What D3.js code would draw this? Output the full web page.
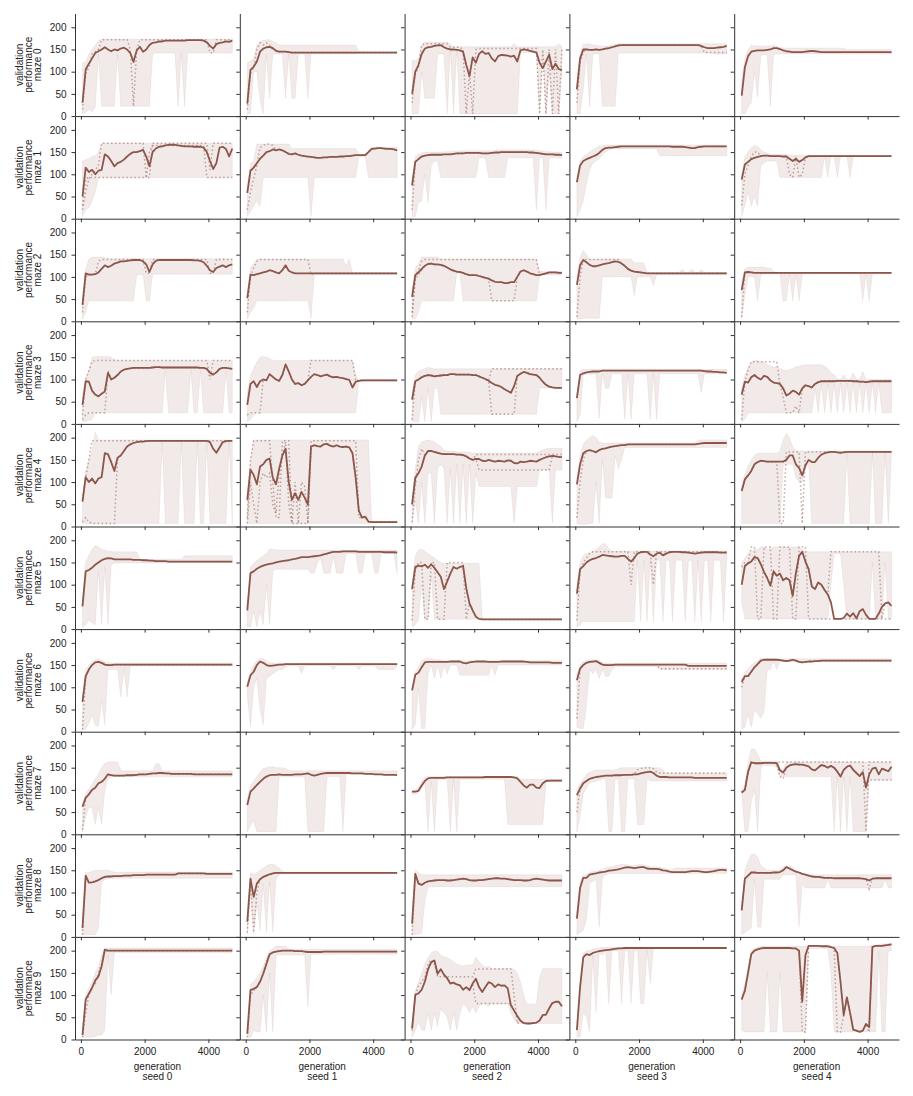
<!DOCTYPE html>
<html>
<head>
<meta charset="utf-8">
<script src="https://cdn.jsdelivr.net/npm/d3@7"></script>
<style>
  body { margin: 0; background: #fff; }
  text { font-family: "Liberation Sans", Arial, Helvetica, sans-serif; }
</style>
</head>
<body>
<svg id="chart"></svg>
<script>
/*** DADOS ***/
const mazes = ["maze 0", "maze 1", "maze 2", "maze 3", "maze 4", "maze 5", "maze 6", "maze 7", "maze 8", "maze 9"];
const seeds = ["seed 0", "seed 1", "seed 2", "seed 3", "seed 4"];
const gens = [50, 150, 250, 350, 450, 550, 650, 750, 850, 950, 1050, 1150, 1250, 1350, 1450, 1550,
  1650, 1750, 1850, 1950, 2050, 2150, 2250, 2350, 2450, 2550, 2650, 2750, 2850, 2950, 3050, 3150,
  3250, 3350, 3450, 3550, 3650, 3750, 3850, 3950, 4050, 4150, 4250, 4350, 4450, 4550, 4650, 4750];
const xTicks = [0, 2000, 4000];
const yTicks = [0, 50, 100, 150, 200];

// series per maze (row) and seed (column); "v*n" = v repeated n times, "-" = same as the mean
const meanLine = [
  ["30 105 118 130 142 146 150 155 150 146 150 148 152 154 150 142 122 148 156 145 150 160 165 166 168 168 170*7 171*5 170 166 158 152 162 165 166 168 167 170",
   "28 104 111 123 145 152 155 156 153 147 145 145 145 144 143*34",
   "50 100 115 140 152 155 156 158 159 160 155 152 150 150 149 148 145 115 90 132 120 140 146 140 142 130 123 135 138 137 136 134 136 123 148 150 149 147 145 143 120 108 123 138 106 118 106 104",
   "60 130 150 150 149 149 150 149 150 152 153 155 157 159 160*25 158 155 153 153 153 154 155 156 158",
   "46 110 135 145 147 148 148 148 149 150 153 153 151 148 146 145 144 144 144 144 145 146 147 146 145 144*23"],
  ["50 115 105 110 100 108 110 145 140 130 118 125 128 133 140 146 150 150 152 155 140 118 150 158 162 163 165 166 167 166 165 164 163 163 163 162 162 162 160 150 130 112 125 160 162 157 140 158",
   "58 108 115 125 135 142 150 152 156 154 156 154 150 146 145 147 144 142 141 140 139 138 137 137 138 138 139 139 139 140 140 141 141 142 143 143 143 143 150 157 158 159 159 158 157 157 156 154",
   "75 128 134 140 142 143 144 144 144 144 145 145 145 146 147 147 147 148 148 148 148 148 147 147 147 148 149 149 150*9 149 149 148 147 146 145 145 145 144 144 143",
   "82 120 130 134 137 140 143 148 155 159 160 160 161 162 163*16 162*4 161 160 159 159 161 162 163*8",
   "88 122 128 134 137 139 141 142 142 141 141 141 141 140 140 135 130 135 128 132 138 141 141*26"],
  ["37 108 105 105 106 110 118 126 122 125 130 132 135 135 136 137 138 138 138 135 128 111 128 136 138*11 137 137 136 133 125 115 111 120 123 126 122 126 128",
   "52 105 104 106 108 110 112 115 113 110 108 115 126 114 110 108*33",
   "55 104 110 118 125 129 130 128 128 127 125 121 117 114 112 111 109 106 104 104 104 102 100 98 96 92 89 88 88 86 86 88 88 100 112 115 112 108 106 104 104 106 108 110 110 110 109 109",
   "82 126 138 133 127 124 124 126 128 130 131 133 135 134 130 125 118 114 112 111 110 109 108*26",
   "70 110 111 110 109*44"],
  ["43 96 95 75 66 62 68 73 115 100 104 110 118 122 124 125 126*6 127 128 128 127*12 126 126 124 115 111 116 124 126 126 125 124",
   "43 90 96 83 96 100 98 112 106 100 97 110 134 118 100 90 92 87 90 98 106 112 110 107 109 111 107 105 106 104 103 101 99 82 95 97 98*12",
   "55 96 100 105 108 110 109 107 108 109 110 110 112 112 111 111 111 111 111 110 110 107 104 101 97 92 88 86 83 78 74 70 85 108 113 117 115 112 111 110 104 95 88 84 82 81 81 81",
   "58 110 114 116 117 118 118 118 120*32 119 118 118 117 117 116 116 115",
   "66 95 93 105 110 104 100 108 106 98 93 92 90 80 64 68 75 72 66 80 87 85 82 90 94 96 96 96 96 96 97 97 97 97 97 96 96 95 95 94 95 96*7"],
  ["56 111 100 108 97 108 111 165 163 145 125 155 160 170 180 185 188 190 191 191 192 193*19 190 175 166 178 190 192 193 193",
   "60 128 116 95 135 140 150 153 110 95 130 160 175 100 60 75 60 78 65 49 180 183 181 180 185 186 182 180 183 180 179 180 178 165 110 35 20 22 11 10*9",
   "50 110 120 135 160 170 170 168 166 164 163 163 163 163 162 162 161 158 153 150 152 152 148 147 150 148 146 148 147 146 149 148 143 142 146 145 146 148 147 146 150 153 156 158 159 158 157 156",
   "95 140 165 170 172 170 167 172 175 176 178 180 181 182 183 183 185*22 186 187 188*8",
   "80 106 115 125 140 145 148 147 146 146 146 146 146 146 150 160 160 140 132 115 138 150 145 145 155 162 165 167 168 168 167 166 167 168*15"],
  ["51 130 133 138 145 150 155 158 160 159 157*6 156*3 155 155 154 154 153*4 152*21",
   "42 126 130 136 140 143 145 147 148 150 152 153 154 155 157 158 160 162 162 162 163 164 165 166 168 170 172 174 174 174 175*5 174*8 173*4 172",
   "90 140 143 141 145 138 146 138 128 118 90 107 125 140 136 140 142 92 58 42 28 23 22*26",
   "80 135 142 150 155 158 160 163 167 166 165 164 163 163 165 165 158 152 160 170 173 174 174 168 164 170 172 166 170 173 174 174 174 173 173 172 171 170 171 172 173 173 173 173 173 172 172 172",
   "100 142 148 152 162 160 146 129 115 98 130 120 125 110 115 110 75 126 165 174 152 135 96 90 105 100 88 78 60 23 23 23 25 35 28 36 24 40 45 32 23 23 23 35 50 58 60 52"],
  ["67 125 140 150 156 157 155 151 150 150 151*38",
   "101 127 135 150 158 155 150 148 149 150 151 151 152*36",
   "93 128 133 145 156 157*7 158*4 155 154 156 157 158*4 157*4 158*8 157 156*7 155*4",
   "116 142 150 155 157 158 159 155 151 150 150 150 151*23 148*13",
   "112 125 125 135 145 152 160 162 162 162 162 162 161 160 159 160 162 160 157 156 157 158 158 159 159 160*23"],
  ["62 82 90 100 105 115 118 125 135 133 132 132 132 132 133 133 133 134 135 135 135 136 137 137 138 138 137 137 136*7 135*13",
   "66 96 103 111 118 125 130 133 134 134 135 134 134 134 134 135 135 135 136 137 134 132 134 136 137 138*8 137*4 136*3 135*3 134*4 133",
   "96 96 98 110 120 126 127*5 128*12 129*9 128 126 118 110 105 112 112 105 104 115 120 121*5",
   "88 103 115 120 125 127 129 130 131 132 132 132 133 133 133 134 134 134 135 135 137 139 140 141 138 132 129 129 129 128*8 127*11",
   "94 100 141 162 160 160 160 161 161 161 161 160 144 139 150 155 157 158 157 157 155 153 146 144 150 156 154 150 154 150 141 130 145 152 155 145 138 131 140 105 135 148 150 135 148 145 142 152"],
  ["20 138 122 123 125 128 132 135 136 136 137 137 137 138 138 138 139 139 139 139 140*10 143*9 142*9",
   "34 131 90 120 130 135 138 141 143 144*39",
   "30 142 120 117 122 125 126 127 128 128 128 127 127 128 129 130 131 130 128 127 127 128 128 129 130 131 132 132 131 131 130 129 128 128 128 127 127 128 130 131 130 129 128 127 127 127 127 127",
   "41 110 133 133 140 142 143 145 146 147 149 150 151 152 154 156 157 156 155 156 157 157 154 153 153 153 152 150 149 147 146 146 146 146 146 147 148 148 148 147 146 146 147 148 150 151 151 150",
   "60 131 138 145 145 144 144 144 144 144 145 145 146 150 157 154 150 147 145 142 140 138 136 135 135 134 133 133 133 132*9 131 130 127 131 132*6"],
  ["10 90 103 116 133 142 165 202 200*40",
   "13 111 114 118 130 148 170 192 196 198 199 200 200 200 200 199 199 199 198 197*5 198*24",
   "25 100 104 112 130 158 174 178 148 158 146 138 126 128 124 122 112 118 111 126 137 118 107 118 129 126 118 124 121 122 115 77 65 53 42 37 36 36 37 38 43 55 56 70 82 85 85 75",
   "21 118 185 192 190 195 197 199 200 201 202 203 204 205 205 206*33",
   "90 110 150 192 200 203 205 206*9 205 205 200 85 190 211*4 210*3 208 206 195 130 55 95 60 22 20 17 20 35 28 208 211 211 211 212 213 214"]
];

const bandHigh = [
  ["120 122 140 150 160 170 173*42",
   "120 124 130 160 168 170 172 172 168 165 160*25 146 145*12",
   "125 125 130 160 166*8 162 156*19 163 156*13 163 156",
   "80 140 162 163 163 160 160 158 158 158 158 160 162 163*35",
   "80 130 150 160 158 158 158 158 158 158 160 158 155 153*20 150*15"],
  ["130 133 135 140 142 150 170*42",
   "70 125 130 168*11 158*21 145*4 161*9",
   "90 140 145 148 150*6 151*3 152*2 153*11 154*2 155*11 154 153 152 151 151 150 150 150 150",
   "95 130 140 145 150 155 160 163 165 166*38",
   "100 140 150 160 165 163 155 150 148 145*6 143*7 142*26"],
  ["50 118 140 145 145 145 145 143 142 141*39",
   "60 120 130 140*28 125 140 109*15",
   "70 120 130 145*6 140*31 112*8",
   "100 145 160 150 140*14 132*4 110*11 118 110 110 118 110 110 116 110*8",
   "90 118 122*6 120 120 112 110*37"],
  ["70 100 120 150 152 152 152 152 152 150 145 143*37",
   "70 110 125 140 150 152 150 148 143*26 110 100*13",
   "70 110 118 122 125 127 126 124*41",
   "70 120 123*46",
   "80 110 128 140 143 143 140 138 135 130 128 128 125 122 120 122 125 128 130 132 133*6 130 125 115 110 102 100 110 100 100 115 100 100 118 100*9"],
  ["70 125 150 170 213 195*43",
   "80 150 195*37 12*9",
   "60 130 180 190 193 195 193 190 185 180 172 170 170 170 168*5 165*21 170 172 175 176*5",
   "110 160 185 195 200 205 200 190 188*30 195*10",
   "90 120 135 150 160 165*7 170 195 210 200 180 170*31"],
  ["70 150 165 180 188 185 180 178 175 175 174*8 157*14 165*16",
   "60 140 148 155 160 165 170 180 180 178*39",
   "100 165 178 180 175 170 165 160 155 150 148*12 25 23*25",
   "100 150 165 170 172 175 178 185 192 192 180 175*3 176*34",
   "150 160 170 175 180 180 185 185 180 182 185*9 180 175 174*27"],
  ["80 140 150 158 162 165 160 158 155 155 154*38",
   "110 135 150 160 165 165 160 155 155 154*39",
   "100 135 145 160 163 165 165 162 162 162 160*38",
   "130 150 158 160 162 162 162 160 155 155 154*38",
   "120 135 140 150 155 160 165*5 164*37"],
  ["70 92 102 112 125 135 150 160 163 163 163 162 145 143*10 159 159 143*23",
   "80 110 120 130 140 148 150 152 152 150 150 150 148 145 143*34",
   "100 100 105 120 128 130*29 124*14",
   "100 115 125 135 140 142 145*7 148 150*13 145 138*20",
   "100 110 160 192 192 180 165*6 150 145 163*34"],
  ["40 145 145 148 150 150 150 150 150 148 146 145 146*36",
   "50 145 140 145 150 155 160 163 164 160 155 147 146*36",
   "40 150 145 140*45",
   "55 125 140 140 145 148 148 150 152 155 157 158 160 162 163 163 162 160 160 162 163 162 160 158 158 158 157 155 153 152 152 155*17",
   "70 150 170 185 187 180 160 155 150 150 150 150 152 158 160 160 158 150 145 141 140*28"],
  ["20 100 115 130 150 165 190 206*41",
   "25 125 130 140 150 165 185 200 205 210*4 203*35",
   "30 110 130 150 170 185 195 200 198 190 185 185 180 175 170 168 165 168 168 168 185 175 168 162 165 160*7 158 150 130 100 80 80 80 80 140 160*7",
   "30 130 195 200 200 203 205 206 207 207 208*38",
   "100 125 165 200 206 208 210*35 212 213 214 215 215 216 216"]
];

const bandLow = [
  ["5 8 15 10 20 140 22*5 140 22*10 140 142*7 22 142 22 142*15",
   "5 5 100 100 35 5 138 40 140*4 40 140 40 40 140*3 40 140*15 143*13",
   "5 5 5 100 40 40 40 40 140 140 140 5 150 5 150 5*19 143*6 5 143 5 100 5 5 5 100",
   "5 5 60 140 20 140 140 140 22*5 142*30 140*5",
   "5 5 20 30 100 43 138 138 138 22 138 140*37"],
  ["5 20 25 40 60 93*43",
   "5 15 30 40 28 93*15 5 93*14 140*3 93*10",
   "5 5 36 40 100 36 120 130 130 93*12 137*3 93*6 137*9 20 137 137 20 137*5",
   "5 20 40 80 110 125 130 135 145 150 155 157*15 142*22",
   "5 30 60 28 50 28 120 125 130 130 130 130 93*14 140 93 140 140 93 140 140 140 93 140*13"],
  ["5 20 46*15 105 105 105 46 46 106*26",
   "5 20 30 46*17 7 105*27",
   "5 5 20 46*11 108 108 46*24 104*8",
   "5 5 7*6 100*10 58 100*5 80 105*23",
   "5 60 100 100 100 46 105 107*6 46 46 107 46 107 46 107*19 46 107 46 107*7"],
  ["5 5 8 10 25*22 120 25*7 120 25 25 120 25*7 120 25 25",
   "5 10 20 25*32 96*13",
   "5 5 5 60 5 80 5 80 80 22*31 81*8",
   "5 20 110 112 112 112 112 13 113 80 80 113 113 113 113 10 113 10 113*5 10 113 10 113*13 70 113*8",
   "5 10 25*21 80 25 90 25 90 25 90 25 92 25 92 25 92 25 92 25 92 25 92 25 92 25 25"],
  ["7*25 190 7*5 190 7*4 190 7*2 190 7*6 190 7",
   "7*39 8*9",
   "5 60 7 100 7 120 120 7 130 140 130 7 130 7 140 7 140 7 140 7 120 90*11 7 90*7 127*4 7 127*3",
   "5 5 5 5 7 7 100 7 150 64 64 64 160 130 150 178*33",
   "7*13 140*4 110 100 100 130 140 7*11 165 7*7 165 7*3 165 7 165"],
  ["5 10 20 15 10 130 10 140 10 145 149*38",
   "5 5 40 5 40 10 100 10 130 135*11 126 126 150 160 126 126 126 165 126 126 126 170 170 170 170 126 126 170 170 170 126 126 170 170 170 170 170 126",
   "5 10 20 100 22 22 120 22*15 21*26",
   "5 10 17*17 155 17 155 17 155 17 155 155 17 155 155 17 155 155 155 17 155 155 17 155 17 155 155 17 155 155 155 17 155",
   "60 23*27 100 170 170 170 100 23*8 150 23 23 23 150 23 23"],
  ["5 5 20 37 15 11 70 15 140 140 140 140 78 140 78 148*33",
   "80 11 100 120 50 15 120 125 130 135 140 140 145 148*4 131 148*9 140 148*7 140 148*5 140*6 148",
   "5 15 100 7 7 130 150 120 150 120 150 130 150 150 150 127*10 150 127 150*21",
   "10 7 7 60 140 130 140 120 140 125 125 140 147*14 140*22",
   "5 10 40 10 50 40 30 45 140 140 158 140 158*36"],
  ["5 40 60 60 22 60 22 100 125 128 130*38",
   "5 20 30 6*7 130*9 6*6 130*5 6 135*17",
   "90 90 95 105 115 6 120 6 124 124 124 124 6 124 6 124*15 22*12 118*6",
   "5 40 90 105 115 118 120 122 124 125 6 6 125 125 6 6 125 125 125 22 22 22 125 120*25",
   "90 6 6 73 100 6 150 155 155 155 155 150 130*17 6 130 6 130 6 130 6 6 6 6 6 122*8"],
  ["5 5 5 5 5 20 125 128 132*40",
   "5 100 7 80 15 120 11 125 11 130 140 142*37",
   "5 5 7 7 80 112 113*42",
   "5 10 15 40 120 125 130 22 135 140 143*38",
   "5 10 15 20 130 22 22 130*6 140*5 22 120 110*7 130 110*17 130 110 110"],
  ["5 5 5 5 7 10 10 20 190 100 196*38",
   "5 5 20 17 17 100 17 150 17 190*10 73 192*28",
   "5 20 40 21 21 60 21 60 30 70 60 50 21 60 21 60 80 75 60 75 60 75 80 80 75 80*6 60 45 36*15",
   "5 5 60 51 17 190 60 195 190 200 81 200 200 200 81 200 200 81 200 200 81 81 200 126 205*24",
   "20 17*7 150 17 17 17 150 17*8 205*7 150 17*14 200 17 17 200 200"]
];

// individual runs (dotted)
const dottedRuns = [
  [["15 95 110 140 145 150 172*9 150 22 150 172*22 142 142 172*6"],
   ["15 95 110 150 165 160 165 160 150 -*39"],
   ["30 95 110 160 163*8 155*4 150 5 100 5 150 152*19 5 150 5 150 5 150 5 150"],
   ["30 120 145 -*37 143*8"],
   []],
  [["20 60 90 100 110 120 170*14 93 93 170*18 110 170*7", "30 90 93*19 150 165*17 93*9"],
   ["20 60 90 120 160 165 168 168 165 -*39"],
   ["20 -*47"],
   [],
   ["30 100 120 140 150 150 -*9 100 93 140 93 100 -*28"]],
  [["20 100 105 106 106 135 139*14 108 108 139*18 108 108 139*6"],
   ["20 100 120 135 139*16 105 -*27"],
   ["10 95 105 115 -*21 46*8 100 -*14", "20 105 115 135 139*36 -*8"],
   ["10 100 140 139*11 -*34"],
   ["10 -*47"]],
  [["20 100 120 140 143*36 100 143*7", "10 20 25*6 120 -*39"],
   ["20 25 25 25 25 -*15 143*14 96 -*13"],
   ["10 95 -*23 22*8 -*15", "-*25 124*23"],
   [],
   ["10 96 -*11 60 25 25 25 40 25 -*29", "-*2 120 140*9 -*36"]],
  [["10 20 10 7*8 150 -*36", "60 110 150 193*45"],
   ["20 150 193*6 100 20 20 193 193 193 7*6 193*15 20 -*12", "7 100 50 7 100 120 110 120 50 30 120 160 190 50 7 100 7 100 90 7 -*28"],
   ["10 90 150 175 -*16 162*28", "-*21 127*23 -*4"],
   ["20 100 150 -*45"],
   ["-*12 7 7 168*5 7 168*28"]],
  [[],
   [],
   ["20 130 150 150 22 22 150 150 22 22 22 150*6 22 -*30"],
   ["20 130 150 160 170 174*12 100 174*6 100 174*23"],
   ["140 150 150 185 185 23 23 185 185 185 23 23 185*4 23 23 185 185 185 23*27", "-*28 174*16 23 -*3"]],
  [["5 -*47"], [], [], ["30 -*25 142*22"], ["100 -*47"]],
  [["10 -*47"], [], [], ["50 -*18 145 148 150 150 150 148 140 138*22"],
   ["-*12 163*27 6 163*8", "-*12 130 125 -*26 122*8"]],
  [["5 -*47"], ["10 130 10 100 -*44"], ["5 -*47"], [], ["-*40 108 -*7"]],
  [["5 60 100 120 125 150 170 200 -*40"],
   ["5 100 110 120 130 150 175 -*41"],
   ["20 100 120 130 140 170 180 170 141*12 159*12 100 36 -*14", "-*20 81*12 -*16"],
   [],
   ["-*19 17 17 -*9 17 17 -*8 17 -*7"]]
];

/*** LAYOUT ***/
const W = 913, H = 1096;
const padLeft = 75, padTop = 13.5, pw = 164.8, ph = 102.6;
const brown = "#8c564b";

// read one series string -> array with one value per generation
function unpack(s, ref) {
  const out = [];
  s.trim().split(/\s+/).forEach((tok) => {
    const parts = tok.split("*");
    const n = parts.length > 1 ? +parts[1] : 1;
    for (let k = 0; k < n; k++) out.push(parts[0] === "-" ? null : +parts[0]);
  });
  while (out.length < gens.length) out.push(out[out.length - 1]);
  return out.slice(0, gens.length).map((v, i) => (v === null ? ref[i] : v));
}

const x = d3.scaleLinear().domain([-185, 4985]).range([0, pw]);
const y = d3.scaleLinear().domain([0, 231]).range([ph, 0]);

const svg = d3.select("#chart").attr("width", W).attr("height", H);

const area = d3.area()
  .x((d) => x(d.g))
  .y0((d) => y(d.lo))
  .y1((d) => y(d.hi));

const line = d3.line()
  .x((d, i) => x(gens[i]))
  .y((d) => y(d));

/*** DESENHO: bandas, corridas e media ***/
mazes.forEach((maze, r) => {
  seeds.forEach((seed, c) => {
    const g = svg.append("g")
      .attr("transform", "translate(" + (padLeft + c * pw) + "," + (padTop + r * ph) + ")");

    const mean = unpack(meanLine[r][c]);
    const hi = unpack(bandHigh[r][c]);
    const lo = unpack(bandLow[r][c]);
    const band = gens.map((gv, i) => ({ g: gv, lo: Math.min(lo[i], hi[i]), hi: Math.max(lo[i], hi[i]) }));

    g.append("path")
      .datum(band)
      .attr("d", area)
      .attr("fill", brown)
      .attr("fill-opacity", 0.12)
      .attr("stroke", brown)
      .attr("stroke-opacity", 0.1)
      .attr("stroke-width", 0.8);

    dottedRuns[r][c].forEach((s) => {
      g.append("path")
        .datum(unpack(s, mean))
        .attr("d", line)
        .attr("fill", "none")
        .attr("stroke", brown)
        .attr("stroke-opacity", 0.5)
        .attr("stroke-width", 1.5)
        .attr("stroke-dasharray", "1.5,2.5");
    });

    g.append("path")
      .datum(mean)
      .attr("d", line)
      .attr("fill", "none")
      .attr("stroke", brown)
      .attr("stroke-width", 1.8)
      .attr("stroke-linejoin", "round");
  });
});

/*** EIXOS ***/
mazes.forEach((maze, r) => {
  seeds.forEach((seed, c) => {
    const g = svg.append("g")
      .attr("transform", "translate(" + (padLeft + c * pw) + "," + (padTop + r * ph) + ")");

    const xa = g.append("g")
      .attr("transform", "translate(0," + ph + ")")
      .call(d3.axisBottom(x).tickValues(xTicks).tickSize(3.5).tickSizeOuter(0).tickPadding(5)
        .tickFormat(r === mazes.length - 1 ? d3.format("d") : () => ""));

    const ya = g.append("g")
      .call(d3.axisLeft(y).tickValues(yTicks).tickSize(3.5).tickSizeOuter(0).tickPadding(5)
        .tickFormat(c === 0 ? d3.format("d") : () => ""));

    [xa, ya].forEach((a) => {
      a.attr("font-family", null).attr("font-size", 10);
      a.selectAll("path.domain, line").attr("stroke", "#333").attr("stroke-width", 1);
      a.selectAll("text").attr("fill", "#222");
    });
  });

  // titulo y em tres linhas
  const cy = padTop + r * ph + ph / 2;
  ["validation", "performance", maze].forEach((t, k) => {
    svg.append("text")
      .attr("transform", "translate(" + (22.5 + k * 9.4) + "," + cy + ") rotate(-90)")
      .attr("text-anchor", "middle")
      .attr("font-size", 10)
      .attr("fill", "#222")
      .text(t);
  });
});

seeds.forEach((seed, c) => {
  const cx = padLeft + c * pw + pw / 2;
  svg.append("text").attr("x", cx).attr("y", 1069.5)
    .attr("text-anchor", "middle").attr("font-size", 10).attr("fill", "#222").text("generation");
  svg.append("text").attr("x", cx).attr("y", 1080.3)
    .attr("text-anchor", "middle").attr("font-size", 10).attr("fill", "#222").text(seed);
});
</script>
</body>
</html>
